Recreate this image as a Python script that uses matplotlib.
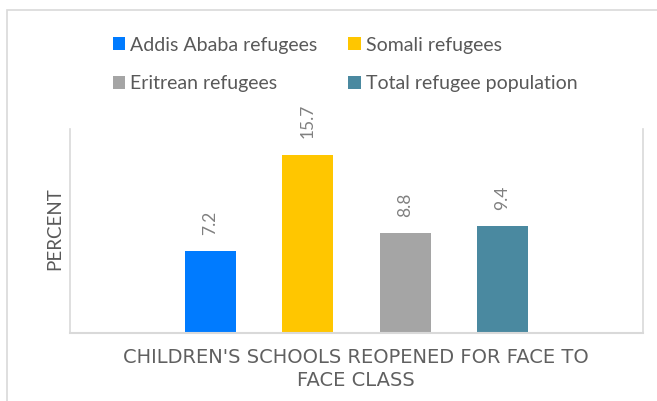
import matplotlib
matplotlib.use("Agg")
import matplotlib.pyplot as plt
from matplotlib.patches import Rectangle, Patch

series = ["Addis Ababa refugees", "Somali refugees", "Eritrean refugees", "Total refugee population"]
values = [7.2, 15.7, 8.8, 9.4]
colors = ["#007BFF", "#FFC600", "#A5A5A5", "#4A89A0"]
category = "CHILDREN'S SCHOOLS REOPENED FOR FACE TO\nFACE CLASS"
ylabel = "PERCENT"

W, H = 657, 401
plt.rcParams['font.family'] = ['Lato', 'DejaVu Sans']
fig = plt.figure(figsize=(W / 100, H / 100), dpi=100)
fig.patch.set_facecolor("white")

# outer chart border (clipped at right and bottom)
fig.patches.append(Rectangle((7 / W, -0.1), 1.2, 1 - 10 / H + 0.1, transform=fig.transFigure,
                             fill=False, edgecolor="#D9D9D9", linewidth=1.2))

ax = fig.add_axes([70 / W, 1 - 333 / H, 573 / W, 204 / H])
ax.set_xlim(-0.5, 0.5)
ax.set_ylim(0, 18)

n = len(values)
step = 0.170
width = 0.089
offsets = [(i - (n - 1) / 2) * step for i in range(n)]
handles = []
for off, v, c, s in zip(offsets, values, colors, series):
    ax.bar(off, v, width=width, color=c, label=s)
    handles.append(Patch(facecolor=c, edgecolor="none"))
    ax.annotate(f"{v}", (off, v), xytext=(0, 12), textcoords="offset points",
                rotation=90, ha="center", va="bottom", fontsize=12.5, color="#808080")

for side in ["left", "right"]:
    ax.spines[side].set_color("#D9D9D9")
    ax.spines[side].set_linewidth(1.2)
ax.spines["bottom"].set_color("#D9D9D9")
ax.spines["bottom"].set_linewidth(1.5)
ax.spines["top"].set_visible(False)
ax.set_xticks([])
ax.set_yticks([])

fig.text(55 / W, 1 - 229 / H, ylabel, rotation=90, ha="center", va="center",
         fontsize=13.5, color="#595959")
fig.text(356 / W, 1 - 369 / H, category, ha="center", va="center", fontsize=14,
         color="#606060", linespacing=1.25, family=["DejaVu Sans"])

# legend laid out row-wise: matplotlib fills columns first, so reorder
order = [0, 2, 1, 3]
fig.legend([handles[i] for i in order], [series[i] for i in order], loc="upper left",
           bbox_to_anchor=(95 / W, 1 - 19 / H), ncol=2,
           frameon=False, prop={"size": 14}, labelcolor="#595959",
           handlelength=0.65, handleheight=0.65, handletextpad=0.25, columnspacing=1.6,
           labelspacing=1.12)

fig.savefig("out.png", dpi=100)
